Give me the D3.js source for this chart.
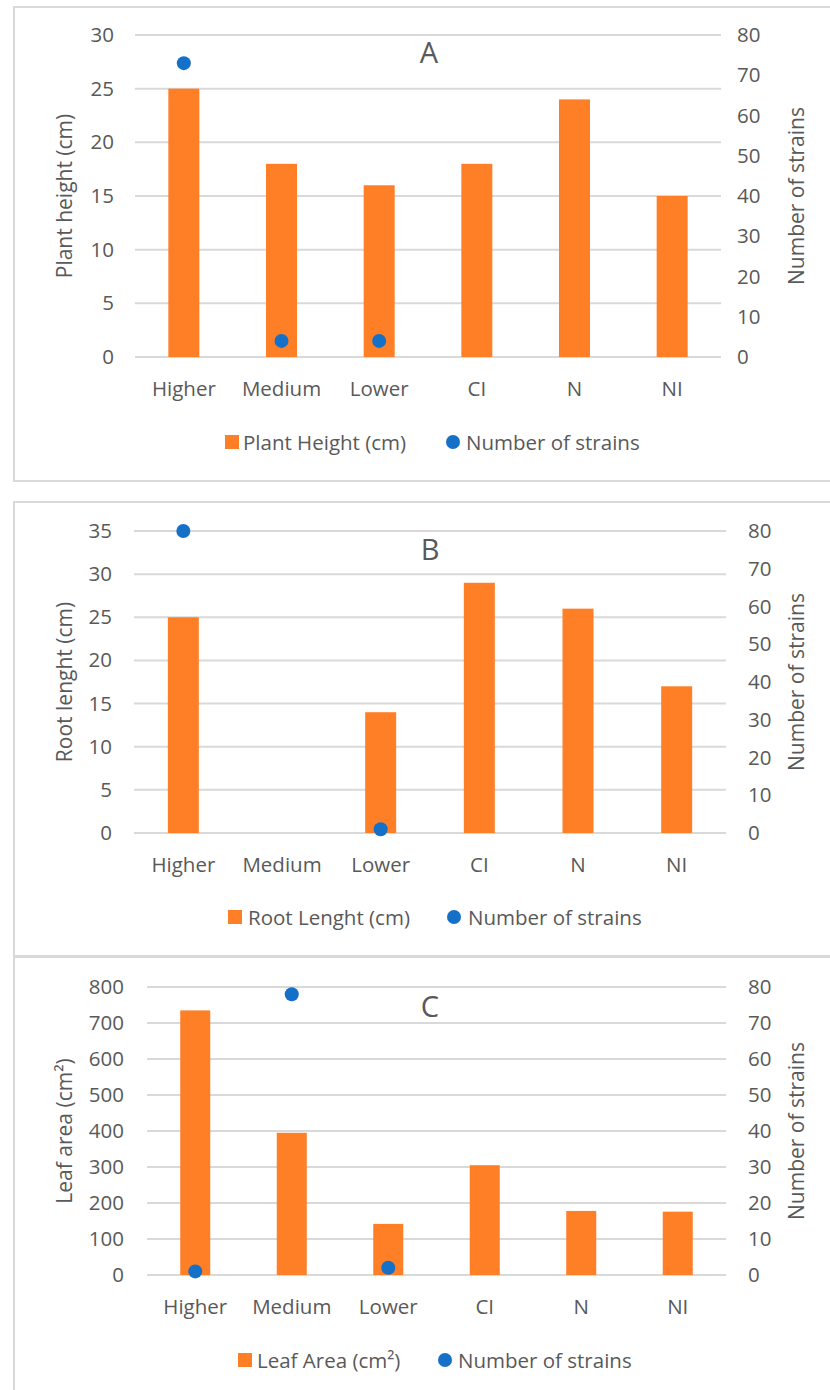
<!DOCTYPE html>
<html>
<head>
<meta charset="utf-8">
<script src="https://cdn.jsdelivr.net/npm/d3@7/dist/d3.min.js"></script>
<style>
  html, body { margin: 0; padding: 0; background: #ffffff; }
  svg { display: block; }
  text { font-family: "Open Sans", "Noto Sans", sans-serif; fill: #595959; }
</style>
</head>
<body>
<svg id="chart" width="830" height="1390"></svg>
<script>
// ---------- data ----------
const categories = ["Higher", "Medium", "Lower", "CI", "N", "NI"];

const plantHeight = [25, 18, 16, 18, 24, 15];
const strainsA    = [73, 4, 4, null, null, null];
const ticksA      = [0, 5, 10, 15, 20, 25, 30];

const rootLength  = [25, null, 14, 29, 26, 17];
const strainsB    = [80, null, 1, null, null, null];
const ticksB      = [0, 5, 10, 15, 20, 25, 30, 35];

const leafArea    = [735, 395, 142, 305, 178, 176];
const strainsC    = [1, 78, 2, null, null, null];
const ticksC      = [0, 100, 200, 300, 400, 500, 600, 700, 800];

const ticksRight  = [0, 10, 20, 30, 40, 50, 60, 70, 80];

// ---------- styles ----------
const ORANGE = "#FF7F27";
const BLUE = "#1570C8";
const GRID = "#d9d9d9";
const FS = 20.5;

const svg = d3.select("#chart");

function drawPanel(cfg) {
  const g = svg.append("g");

  // frame
  g.append("rect")
    .attr("x", cfg.box[0]).attr("y", cfg.box[1])
    .attr("width", cfg.box[2]).attr("height", cfg.box[3])
    .attr("fill", "none").attr("stroke", GRID).attr("stroke-width", 2);

  const x = d3.scaleBand().domain(categories).range([cfg.x0, cfg.x1]).paddingInner(0).paddingOuter(0);
  const yL = d3.scaleLinear().domain([0, cfg.leftTicks[cfg.leftTicks.length - 1]]).range([cfg.y0, cfg.y1]);
  const yR = d3.scaleLinear().domain([0, 80]).range([cfg.y0, cfg.y1]);

  // gridlines
  g.append("g").selectAll("line").data(cfg.leftTicks).join("line")
    .attr("x1", cfg.x0).attr("x2", cfg.x1)
    .attr("y1", d => yL(d)).attr("y2", d => yL(d))
    .attr("stroke", GRID).attr("stroke-width", 2);

  // left axis labels
  const axL = d3.axisLeft(yL).tickValues(cfg.leftTicks).tickSize(0).tickPadding(0);
  const gL = g.append("g").attr("transform", `translate(${cfg.leftLabelX},0)`).call(axL);
  gL.select(".domain").remove();
  gL.selectAll("text").attr("font-size", FS).attr("fill", "#595959")
    .attr("font-family", '"Open Sans", sans-serif');

  // right axis labels
  const axR = d3.axisRight(yR).tickValues(ticksRight).tickSize(0).tickPadding(0);
  const gR = g.append("g").attr("transform", `translate(${cfg.rightLabelX},0)`).call(axR);
  gR.select(".domain").remove();
  gR.selectAll("text").attr("font-size", FS).attr("fill", "#595959")
    .attr("font-family", '"Open Sans", sans-serif');

  // bottom axis labels
  const axB = d3.axisBottom(x).tickSize(0).tickPadding(0);
  const gB = g.append("g").attr("transform", `translate(0,${cfg.xLabelY})`).call(axB);
  gB.select(".domain").remove();
  gB.selectAll("text").attr("font-size", FS).attr("fill", "#595959")
    .attr("font-family", '"Open Sans", sans-serif').attr("dy", "0.35em");

  // bars
  const bw = cfg.barW;
  g.append("g").selectAll("rect")
    .data(cfg.bars.map((v, i) => ({ c: categories[i], v })).filter(d => d.v !== null))
    .join("rect")
    .attr("x", d => x(d.c) + x.bandwidth() / 2 - bw / 2)
    .attr("width", bw)
    .attr("y", d => yL(d.v))
    .attr("height", d => yL(0) - yL(d.v))
    .attr("fill", ORANGE);

  // points
  g.append("g").selectAll("circle")
    .data(cfg.points.map((v, i) => ({ c: categories[i], v })).filter(d => d.v !== null))
    .join("circle")
    .attr("cx", d => x(d.c) + x.bandwidth() / 2)
    .attr("cy", d => yR(d.v))
    .attr("r", 7)
    .attr("fill", BLUE);

  // panel letter
  g.append("text").attr("x", cfg.letterPos[0]).attr("y", cfg.letterPos[1])
    .attr("text-anchor", "middle").attr("dominant-baseline", "central")
    .attr("font-size", 29).text(cfg.letter);

  // axis titles
  const midY = (cfg.y0 + cfg.y1) / 2;
  g.append("text")
    .attr("transform", `translate(${cfg.leftTitleX},${midY}) rotate(-90)`)
    .attr("text-anchor", "middle").attr("dominant-baseline", "central")
    .attr("font-size", 21).text(cfg.leftTitle);
  g.append("text")
    .attr("transform", `translate(${cfg.rightTitleX},${midY}) rotate(-90)`)
    .attr("text-anchor", "middle").attr("dominant-baseline", "central")
    .attr("font-size", 21).text("Number of strains");

  // legend
  const L = cfg.legend;
  g.append("rect").attr("x", L.sq).attr("y", L.y - 7).attr("width", 14).attr("height", 14).attr("fill", ORANGE);
  g.append("text").attr("x", L.t1).attr("y", L.y).attr("dominant-baseline", "central")
    .attr("font-size", FS).text(cfg.barName);
  g.append("circle").attr("cx", L.cx).attr("cy", L.y).attr("r", 7).attr("fill", BLUE);
  g.append("text").attr("x", L.t2).attr("y", L.y).attr("dominant-baseline", "central")
    .attr("font-size", FS).text("Number of strains");
}

drawPanel({
  box: [14, 7, 830, 474],
  x0: 135, x1: 721, y0: 357, y1: 35,
  leftTicks: ticksA, leftLabelX: 114, rightLabelX: 737, xLabelY: 389,
  barW: 31, bars: plantHeight, points: strainsA,
  letter: "A", letterPos: [429, 51],
  leftTitle: "Plant height (cm)", leftTitleX: 64, rightTitleX: 796,
  barName: "Plant Height (cm)",
  legend: { y: 442, sq: 225, t1: 243, cx: 453, t2: 466 }
});

drawPanel({
  box: [14, 502, 830, 454],
  x0: 134, x1: 726, y0: 833, y1: 531,
  leftTicks: ticksB, leftLabelX: 112, rightLabelX: 748, xLabelY: 865,
  barW: 31, bars: rootLength, points: strainsB,
  letter: "B", letterPos: [430, 548],
  leftTitle: "Root lenght (cm)", leftTitleX: 64, rightTitleX: 796,
  barName: "Root Lenght (cm)",
  legend: { y: 917, sq: 228, t1: 248, cx: 454, t2: 468 }
});

drawPanel({
  box: [14, 957, 830, 460],
  x0: 147, x1: 726, y0: 1275, y1: 987,
  leftTicks: ticksC, leftLabelX: 124, rightLabelX: 748, xLabelY: 1307,
  barW: 30, bars: leafArea, points: strainsC,
  letter: "C", letterPos: [430, 1005],
  leftTitle: "Leaf area (cm²)", leftTitleX: 64, rightTitleX: 796,
  barName: "Leaf Area (cm²)",
  legend: { y: 1360, sq: 238, t1: 257, cx: 445, t2: 458 }
});
</script>
</body>
</html>
